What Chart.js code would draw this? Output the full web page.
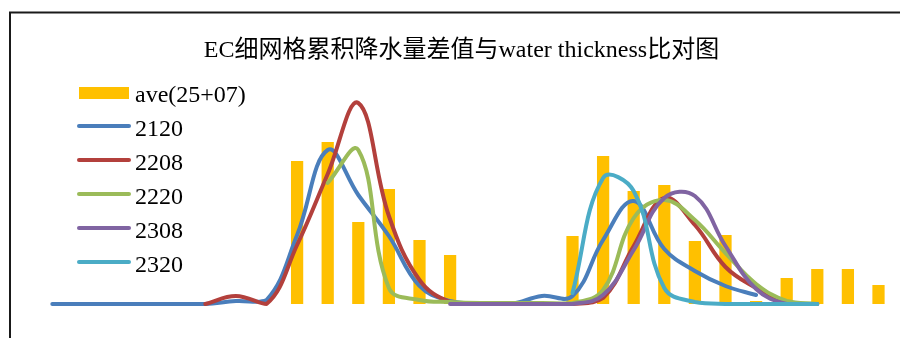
<!DOCTYPE html>
<html>
<head>
<meta charset="utf-8">
<script src="https://cdn.jsdelivr.net/npm/chart.js@4"></script>
<style>
  html, body { margin: 0; padding: 0; background: #ffffff; }
  #wrap { width: 900px; height: 338px; position: relative; }
</style>
</head>
<body>
<div id="wrap"><canvas id="c" width="900" height="338"></canvas></div>
<script>
// Time steps along the x axis (28 slots)
const categories = Array.from({ length: 28 }, (_, i) => String(i + 1));

// Average accumulated precipitation difference (bars)
const aveValues = [0, 0, 0, 0, 0, 0, 0, 0, 14.3, 16.2, 8.2, 11.5, 6.4, 4.9,
  0, 0, 0, 6.8, 14.8, 11.3, 11.9, 6.3, 6.9, 0.3, 2.6, 3.5, 3.5, 1.9];

// Water thickness runs (lines)
const s2120 = [0, 0, 0, 0, 0, 0, 0.3, 0.4, 6.9, 15.4, 10.9, 6.8, 1.8, 0.3,
  0, 0, 0.8, 0.8, 6.4, 10.3, 5.5, 3.3, 1.8, 0.9, null, null, null, null];
const s2208 = [null, null, null, null, null, 0, 0.8, 0, 5.9, 13.0, 20.1, 8.8, 2.4, 0.2,
  0, 0, 0, 0, 0.6, 5.8, 10.6, 7.9, 3.7, 1.6, 0.1, null, null, null];
const s2220 = [null, null, null, null, null, null, null, null, null, 12.1, 15.4, 1.6, 0.4, 0.2,
  0.1, 0.1, 0.1, 0.1, 1.4, 8.6, 10.4, 8.4, 5.1, 2.0, 0.3, 0, null, null];
const s2308 = [null, null, null, null, null, null, null, null, null, null, null, null, null, 0,
  0, 0, 0, 0, 0.9, 5.4, 10.6, 10.8, 5.8, 1.5, 0, 0, null, null];
const s2320 = [null, null, null, null, null, null, null, null, null, null, null, null, null, null,
  null, null, null, 1.1, 12.6, 11.3, 1.6, 0.2, 0, 0, 0, 0, null, null];

const seriesNames = ['ave(25+07)', '2120', '2208', '2220', '2308', '2320'];
const colors = ['#FFC000', '#4A7EBB', '#B3403C', '#9BBB59', '#8064A2', '#4BACC6'];
const titleText = 'EC细网格累积降水量差值与water thickness比对图';

const serif = '"Liberation Serif", "Times New Roman", "Noto Sans CJK SC", serif';

function lineSet(label, data, color, order) {
  return {
    type: 'line', label, data, order,
    borderColor: color, backgroundColor: color,
    borderWidth: 4, borderCapStyle: 'round', borderJoinStyle: 'round',
    pointRadius: 0, tension: 0.4, fill: false, clip: false, spanGaps: false
  };
}

// Frame, title and the legend block at the upper left
const decorations = {
  id: 'decorations',
  afterDraw(chart) {
    const ctx = chart.ctx;
    ctx.save();
    // outer frame
    ctx.strokeStyle = '#1a1a1a';
    ctx.lineWidth = 2;
    ctx.beginPath();
    ctx.moveTo(10, 360);
    ctx.lineTo(10, 12.5);
    ctx.lineTo(920, 12.5);
    ctx.stroke();

    // title
    ctx.fillStyle = '#000000';
    ctx.font = '24px ' + serif;
    ctx.textAlign = 'center';
    ctx.textBaseline = 'alphabetic';
    ctx.fillText(titleText, 461.5, 57);

    // legend
    ctx.textAlign = 'left';
    const rowY = [93, 127, 161, 195, 229, 263];
    rowY.forEach((y, i) => {
      if (i === 0) {
        ctx.fillStyle = colors[0];
        ctx.fillRect(79, y - 6, 50, 12);
      } else {
        ctx.strokeStyle = colors[i];
        ctx.lineWidth = 4;
        ctx.lineCap = 'round';
        ctx.beginPath();
        ctx.moveTo(79, y - 1);
        ctx.lineTo(129, y - 1);
        ctx.stroke();
      }
      ctx.fillStyle = '#000000';
      ctx.fillText(seriesNames[i], 135, y + 9);
    });
    ctx.restore();
  }
};

new Chart(document.getElementById('c'), {
  data: {
    labels: categories,
    datasets: [
      {
        type: 'bar', label: seriesNames[0], data: aveValues, order: 10,
        backgroundColor: colors[0], borderWidth: 0,
        categoryPercentage: 1.0, barPercentage: 0.4
      },
      lineSet(seriesNames[1], s2120, colors[1], 5),
      lineSet(seriesNames[2], s2208, colors[2], 4),
      lineSet(seriesNames[3], s2220, colors[3], 3),
      lineSet(seriesNames[4], s2308, colors[4], 2),
      lineSet(seriesNames[5], s2320, colors[5], 1)
    ]
  },
  options: {
    responsive: false,
    animation: false,
    layout: { padding: { left: 37, right: 6.2, top: 64, bottom: 34 } },
    scales: {
      x: { display: false, offset: true, grid: { display: false } },
      y: { display: false, min: 0, max: 24 }
    },
    plugins: {
      legend: { display: false },
      title: { display: false },
      tooltip: { enabled: false }
    }
  },
  plugins: [decorations]
});
</script>
</body>
</html>
